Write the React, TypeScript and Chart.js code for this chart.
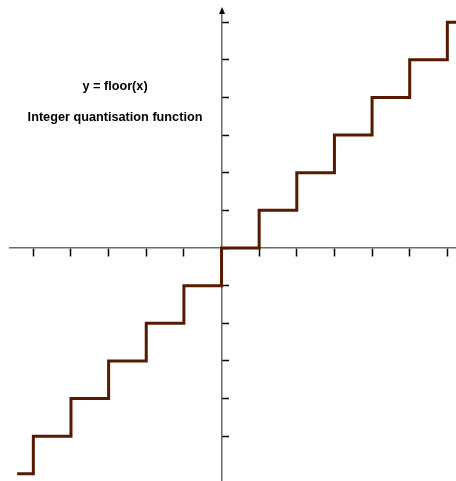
import React, { useEffect, useRef } from "react";
import { Chart, registerables } from "chart.js";

Chart.register(...registerables);

// Breakpoints of the step function and the floor value held from each breakpoint
const breakX = [-5.43, -5, -4, -3, -2, -1, 0, 1, 2, 3, 4, 5, 6, 6.3];
const floorY = [-6, -5, -4, -3, -2, -1, 0, 1, 2, 3, 4, 5, 6, 6];

const xTicks = [-5, -4, -3, -2, -1, 0, 1, 2, 3, 4, 5, 6];
const yTicks = [-5, -4, -3, -2, -1, 0, 1, 2, 3, 4, 5, 6];

const titleLines = ["y = floor(x)", "Integer quantisation function"];

const X_MIN = -5.62;
const X_MAX = 6.23;
const Y_MIN = -6.19;
const Y_MAX = 6.27;

const overlayPlugin = {
  id: "overlay",
  afterDraw(chart: any) {
    const { ctx, chartArea } = chart;
    const xs = chart.scales.x;
    const ys = chart.scales.y;
    const ox = xs.getPixelForValue(0);
    ctx.save();
    // arrow on top of y axis
    ctx.fillStyle = "#000";
    ctx.beginPath();
    ctx.moveTo(ox + 0.5, chartArea.top - 5);
    ctx.lineTo(ox - 2.5, chartArea.top + 2);
    ctx.lineTo(ox + 3.5, chartArea.top + 2);
    ctx.closePath();
    ctx.fill();
    // annotation text
    ctx.font = 'bold 12.7px "Liberation Sans", Arial, sans-serif';
    ctx.textAlign = "center";
    ctx.textBaseline = "middle";
    ctx.fillText(titleLines[0], xs.getPixelForValue(-2.83), ys.getPixelForValue(4.28));
    ctx.fillText(titleLines[1], xs.getPixelForValue(-2.83), ys.getPixelForValue(3.48));
    ctx.restore();
  },
};

export default function App() {
  const ref = useRef<HTMLCanvasElement | null>(null);
  useEffect(() => {
    if (!ref.current) return;
    const chart = new Chart(ref.current, {
      type: "line",
      data: {
        datasets: [
          {
            data: breakX.map((x, i) => ({ x, y: floorY[i] })),
            borderColor: "#561a00",
            borderWidth: 3,
            pointRadius: 0,
            stepped: "before",
            fill: false,
          },
        ],
      },
      options: {
        responsive: false,
        animation: false,
        layout: { padding: { left: 10, top: 12, right: 0, bottom: 0 } },
        plugins: { legend: { display: false }, tooltip: { enabled: false }, title: { display: false } },
        scales: {
          x: {
            type: "linear",
            min: X_MIN,
            max: X_MAX,
            position: { y: 0 } as any,
            afterBuildTicks: (s: any) => {
              s.ticks = xTicks.map((v) => ({ value: v }));
            },
            ticks: { display: false },
            grid: {
              drawOnChartArea: false,
              drawTicks: true,
              tickLength: 8,
              tickColor: "#000",
              tickWidth: 1.5,
            },
            border: { display: true, color: "#6a6a6a", width: 1.5 },
          },
          y: {
            type: "linear",
            min: Y_MIN,
            max: Y_MAX,
            position: { x: 0 } as any,
            afterBuildTicks: (s: any) => {
              s.ticks = yTicks.map((v) => ({ value: v }));
            },
            ticks: { display: false },
            grid: {
              drawOnChartArea: false,
              drawTicks: true,
              tickLength: -8,
              tickColor: "#000",
              tickWidth: 1.5,
            },
            border: { display: true, color: "#6a6a6a", width: 1.5 },
          },
        },
      },
      plugins: [overlayPlugin],
    });
    return () => chart.destroy();
  }, []);
  return (
    <div style={{ position: "fixed", left: 0, top: 0, width: 456, height: 481, background: "#fff" }}>
      <canvas ref={ref} width={456} height={481} style={{ display: "block" }} />
    </div>
  );
}
